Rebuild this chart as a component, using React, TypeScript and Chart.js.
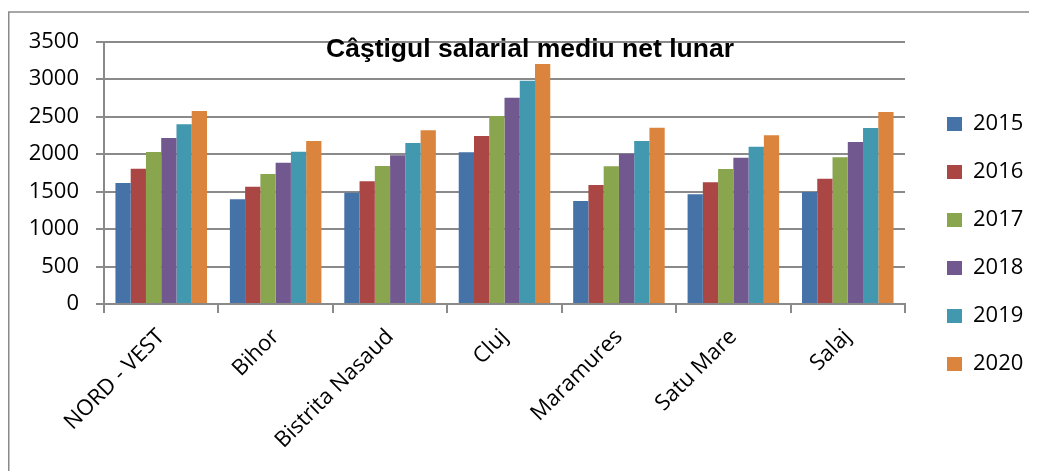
import React, { useEffect, useRef } from 'react';
import { Chart, registerables } from 'chart.js';

Chart.register(...registerables);

const categories = ['NORD - VEST', 'Bihor', 'Bistrita Nasaud', 'Cluj', 'Maramures', 'Satu Mare', 'Salaj'];
const years = ['2015', '2016', '2017', '2018', '2019', '2020'];
const v2015 = [1615, 1396, 1484, 2022, 1373, 1462, 1493];
const v2016 = [1804, 1564, 1636, 2240, 1587, 1622, 1671];
const v2017 = [2027, 1733, 1840, 2507, 1836, 1800, 1956];
const v2018 = [2213, 1884, 1982, 2751, 2004, 1951, 2160];
const v2019 = [2396, 2031, 2147, 2978, 2173, 2098, 2347];
const v2020 = [2573, 2173, 2316, 3200, 2351, 2249, 2560];
const seriesValues = [v2015, v2016, v2017, v2018, v2019, v2020];
const colors = ['#4572A7', '#AA4643', '#89A54E', '#71588F', '#4198AF', '#DB843D'];
const titleText = 'Câştigul salarial mediu net lunar';
const yMin = 0;
const yMax = 3500;
const yStep = 500;

const W = 1029;
const H = 463;
const GRID = '#8a8a8a';
const FONT = '"Open Sans"';
const FS = 22;
const LEG_PAD = 26;
const LEG_BOX = 15;
const PLOT_RIGHT = 897;

export default function App() {
  const ref = useRef<HTMLCanvasElement | null>(null);

  useEffect(() => {
    if (!ref.current) return;
    const mctx = document.createElement('canvas').getContext('2d') as CanvasRenderingContext2D;
    mctx.font = `${FS}px ${FONT}`;
    const maxText = Math.max(...years.map((y) => mctx.measureText(y).width));
    const legendW = LEG_PAD + LEG_BOX + FS / 2 + maxText + 10;
    const padRight = Math.max(0, W - PLOT_RIGHT - legendW);

    const frameTitle = {
      id: 'frameTitle',
      afterLayout(chart: any) {
        const lg = chart.legend;
        if (!lg) return;
        const w = lg.width;
        const h = lg.height;
        lg.left = 939 - LEG_PAD;
        lg.right = lg.left + w;
        const colH = lg.columnSizes && lg.columnSizes[0] ? lg.columnSizes[0].height : 288;
        const sum = 2 * 105 - LEG_PAD + colH;
        lg.top = (sum - h) / 2;
        lg.bottom = lg.top + h;
      },
      afterDraw(chart: any) {
        const ctx = chart.ctx;
        ctx.save();
        ctx.strokeStyle = GRID;
        ctx.lineWidth = 1.5;
        ctx.beginPath();
        ctx.moveTo(0.75, H);
        ctx.lineTo(0.75, 4);
        ctx.lineTo(W, 4);
        ctx.stroke();
        ctx.fillStyle = '#000';
        ctx.font = 'bold 26.5px "Liberation Sans", Arial, sans-serif';
        ctx.textAlign = 'center';
        ctx.textBaseline = 'alphabetic';
        ctx.fillText(titleText, 522, 48.5);
        ctx.restore();
      },
    };

    const chart = new Chart(ref.current, {
      type: 'bar',
      data: {
        labels: categories,
        datasets: years.map((y, i) => ({
          label: y,
          data: seriesValues[i],
          backgroundColor: colors[i],
          borderWidth: 0,
          categoryPercentage: 0.8,
          barPercentage: 1.0,
        })),
      },
      options: {
        responsive: false,
        animation: false,
        layout: { padding: { top: 33.5, left: 0, right: padRight, bottom: 0 } },
        plugins: {
          title: { display: false },
          tooltip: { enabled: false },
          legend: {
            display: true,
            position: 'right',
            labels: {
              boxWidth: LEG_BOX,
              boxHeight: 14,
              padding: LEG_PAD,
              color: '#000',
              font: { family: FONT, size: FS },
            },
          },
        },
        scales: {
          x: {
            grid: {
              offset: true,
              drawOnChartArea: false,
              drawTicks: true,
              tickLength: 9,
              color: GRID,
              lineWidth: 2,
            },
            border: { display: true, color: GRID, width: 2 },
            ticks: {
              minRotation: 45,
              maxRotation: 45,
              autoSkip: false,
              padding: 11,
              color: '#000',
              font: { family: FONT, size: FS },
            },
            afterFit: (s: any) => {
              s.height = 167;
            },
          },
          y: {
            min: yMin,
            max: yMax,
            grid: {
              color: GRID,
              lineWidth: 2,
              drawTicks: true,
              tickLength: 8,
            },
            border: { display: true, color: GRID, width: 2 },
            ticks: {
              stepSize: yStep,
              padding: 17,
              color: '#000',
              font: { family: FONT, size: FS },
              callback: (v: any) => String(v),
            },
            afterFit: (s: any) => {
              s.width = 96;
            },
          },
        },
      },
      plugins: [frameTitle],
    });
    return () => chart.destroy();
  }, []);

  return (
    <div style={{ width: W, height: H }}>
      <canvas ref={ref} width={W} height={H} style={{ display: 'block', width: W, height: H }} />
    </div>
  );
}
